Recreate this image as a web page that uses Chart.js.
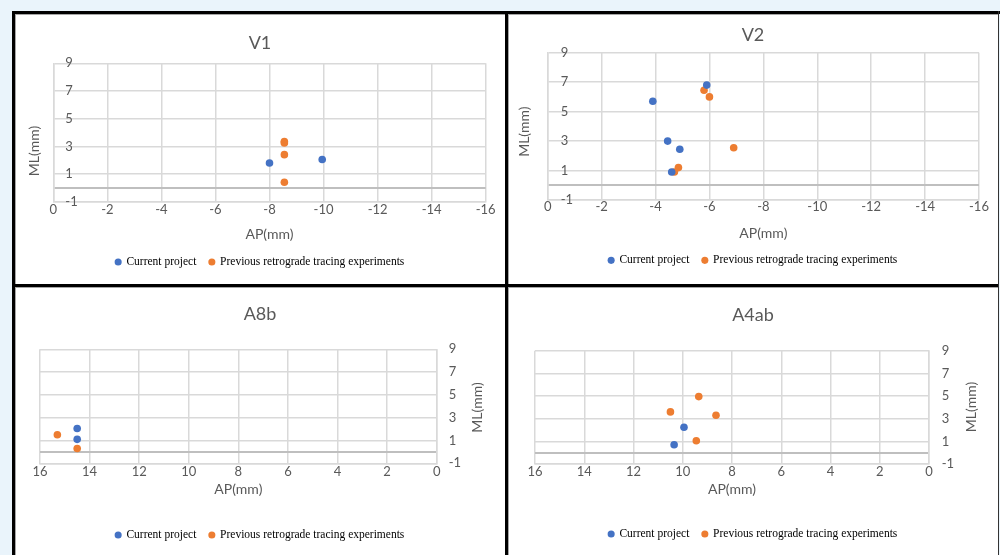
<!DOCTYPE html>
<html>
<head>
<meta charset="utf-8">
<title>V1, V2, A8b, A4ab</title>
<script src="https://cdn.jsdelivr.net/npm/chart.js@4.4.1/dist/chart.umd.min.js"></script>
<style>
  body { margin: 0; width: 1000px; height: 555px; overflow: hidden; position: relative; background: #eaf4fb; }
  .sheet { position: absolute; left: 15px; top: 14px; width: 983px; height: 541px; background: #fff; }
  .panel { position: absolute; }
  .rule { position: absolute; background: #000; }
  .soft { position: absolute; background: #a6a6a6; }
</style>
</head>
<body>
<div class="sheet"></div>
<div class="panel" style="left:15px;top:14px;width:490px;height:270px"><canvas id="v1"></canvas></div>
<div class="panel" style="left:508px;top:14px;width:490px;height:270px"><canvas id="v2"></canvas></div>
<div class="panel" style="left:15px;top:287px;width:490px;height:268px"><canvas id="a8b"></canvas></div>
<div class="panel" style="left:508px;top:287px;width:490px;height:268px"><canvas id="a4ab"></canvas></div>

<div class="soft" style="left:15px;top:14px;width:983px;height:1px"></div>
<div class="soft" style="left:15px;top:14px;width:1px;height:541px"></div>
<div class="soft" style="left:508px;top:14px;width:1px;height:541px"></div>
<div class="soft" style="left:15px;top:287px;width:983px;height:1px"></div>
<div class="rule" style="left:12px;top:11px;width:988px;height:3px"></div>
<div class="rule" style="left:12px;top:11px;width:3px;height:544px"></div>
<div class="rule" style="left:505px;top:11px;width:3px;height:544px"></div>
<div class="rule" style="left:12px;top:284px;width:987px;height:3px"></div>
<div class="rule" style="left:998px;top:11px;width:1px;height:544px;background:#333"></div>

<script>
const seriesNames = ['Current project', 'Previous retrograde tracing experiments'];
const seriesColors = ['#4472C4', '#ED7D31'];

const mlTicks = [-1, 1, 3, 5, 7, 9];
const apTicksCaudal = [0, -2, -4, -6, -8, -10, -12, -14, -16];
const apTicksRostral = [16, 14, 12, 10, 8, 6, 4, 2, 0];

// V1
const v1CurrentAP = [-8.0, -9.95];
const v1CurrentML = [1.8, 2.05];
const v1PreviousAP = [-8.55, -8.55, -8.55, -8.55];
const v1PreviousML = [3.35, 3.25, 2.4, 0.4];

// V2
const v2CurrentAP = [-3.9, -5.9, -4.45, -4.9, -4.6];
const v2CurrentML = [5.7, 6.8, 3.0, 2.45, 0.9];
const v2PreviousAP = [-5.8, -6.0, -6.9, -4.85, -4.7];
const v2PreviousML = [6.45, 6.0, 2.55, 1.2, 0.9];

// A8b
const a8bCurrentAP = [14.5, 14.5];
const a8bCurrentML = [2.05, 1.1];
const a8bPreviousAP = [15.3, 14.5];
const a8bPreviousML = [1.5, 0.3];

// A4ab
const a4abCurrentAP = [9.95, 10.35];
const a4abCurrentML = [2.25, 0.7];
const a4abPreviousAP = [9.35, 10.5, 8.65, 9.45];
const a4abPreviousML = [4.95, 3.6, 3.3, 1.05];

const gridGray = '#d9d9d9';
const axisGray = '#bfbfbf';
const textGray = '#595959';
const tickFont = { family: 'Lato', size: 13 };
const axisFont = { family: 'Lato', size: 14 };

function toPoints(ap, ml) {
  return ap.map((x, i) => ({ x: x, y: ml[i] }));
}

// y axis title drawn by hand so it can sit where the original has it
const yTitlePlugin = {
  id: 'yTitle',
  afterDraw(chart, args, opts) {
    const ctx = chart.ctx;
    ctx.save();
    ctx.translate(opts.x, opts.y);
    ctx.rotate(-Math.PI / 2);
    ctx.font = '14px Lato';
    ctx.fillStyle = textGray;
    ctx.textAlign = 'center';
    ctx.textBaseline = 'middle';
    ctx.fillText(opts.text, 0, 0);
    ctx.restore();
  }
};

function makeChart(id, title, cur, prev, apTicks, side, box) {
  const apSorted = apTicks.slice().sort((a, b) => a - b);
  new Chart(document.getElementById(id), {
    type: 'scatter',
    data: {
      datasets: [
        { label: seriesNames[0], data: cur, backgroundColor: seriesColors[0], borderColor: seriesColors[0], borderWidth: 0, pointRadius: 3.8, pointHoverRadius: 3.8 },
        { label: seriesNames[1], data: prev, backgroundColor: seriesColors[1], borderColor: seriesColors[1], borderWidth: 0, pointRadius: 3.8, pointHoverRadius: 3.8 }
      ]
    },
    plugins: [yTitlePlugin],
    options: {
      responsive: true,
      maintainAspectRatio: false,
      animation: false,
      layout: { padding: { left: box.side, right: box.side, top: 0, bottom: box.bottom } },
      plugins: {
        title: {
          display: true, text: title, color: textGray,
          font: { family: 'Lato', size: 18, weight: 'normal' },
          padding: { top: box.titleTop, bottom: box.titleBottom }
        },
        legend: {
          position: 'bottom',
          labels: {
            usePointStyle: true, pointStyle: 'circle', boxWidth: 5, boxHeight: 5, padding: 13,
            color: '#000', font: { family: 'Liberation Serif', size: 11.5 }
          }
        },
        tooltip: { enabled: false },
        yTitle: { text: 'ML(mm)', x: box.yTitleX, y: box.yTitleY }
      },
      scales: {
        x: {
          type: 'linear', position: 'bottom', reverse: true,
          min: apSorted[0], max: apSorted[apSorted.length - 1],
          afterBuildTicks: (s) => { s.ticks = apSorted.map(v => ({ value: v })); },
          afterFit: (s) => { s.height = box.xHeight; },
          ticks: { color: textGray, font: tickFont, padding: box.xTickPad, autoSkip: false, maxRotation: 0, callback: (v) => String(v) },
          grid: { color: gridGray, lineWidth: 1.5, drawTicks: false },
          border: { color: gridGray, width: 1.5 },
          title: { display: true, text: 'AP(mm)', color: textGray, font: axisFont, padding: { top: 0, bottom: box.xTitlePad } }
        },
        y: {
          type: 'linear', position: side, min: mlTicks[0], max: mlTicks[mlTicks.length - 1],
          afterBuildTicks: (s) => { s.ticks = mlTicks.concat([0]).sort((a, b) => a - b).map(v => ({ value: v })); },
          afterFit: (s) => { s.width = box.yWidth; },
          ticks: {
            mirror: side === 'left', padding: box.yTickPad, color: textGray, font: tickFont, autoSkip: false,
            callback: (v) => v === 0 ? '' : String(v)
          },
          grid: {
            drawTicks: false,
            color: (c) => (c.tick && c.tick.value === 0 ? axisGray : gridGray),
            lineWidth: (c) => (c.tick && c.tick.value === 0 ? 2 : 1.5)
          },
          border: { color: gridGray, width: 1.5 }
        }
      }
    }
  });
}

function drawAll() {
  makeChart('v1', 'V1', toPoints(v1CurrentAP, v1CurrentML), toPoints(v1PreviousAP, v1PreviousML), apTicksCaudal, 'left',
    { side: 19.3, bottom: 6.2, titleTop: 17.9, titleBottom: 9.8, xHeight: 41.6, xTickPad: 0, xTitlePad: 0,
      yWidth: 19, yTickPad: 12, yTitleX: 19, yTitleY: 137 });
  makeChart('v2', 'V2', toPoints(v2CurrentAP, v2CurrentML), toPoints(v2PreviousAP, v2PreviousML), apTicksCaudal, 'left',
    { side: 19, bottom: 7.9, titleTop: 10.2, titleBottom: 6.9, xHeight: 41.6, xTickPad: -1, xTitlePad: 0,
      yWidth: 20.7, yTickPad: 13, yTitleX: 16, yTitleY: 117.7 });
  makeChart('a8b', 'A8b', toPoints(a8bCurrentAP, a8bCurrentML), toPoints(a8bPreviousAP, a8bPreviousML), apTicksRostral, 'right',
    { side: 25, bottom: 4.2, titleTop: 16.4, titleBottom: 24.3, xHeight: 53, xTickPad: 0.6, xTitlePad: 18.9,
      yWidth: 43.3, yTickPad: 12, yTitleX: 462, yTitleY: 120.5 });
  makeChart('a4ab', 'A4ab', toPoints(a4abCurrentAP, a4abCurrentML), toPoints(a4abPreviousAP, a4abPreviousML), apTicksRostral, 'right',
    { side: 27, bottom: 5.25, titleTop: 17.7, titleBottom: 24.4, xHeight: 51.25, xTickPad: 0.5, xTitlePad: 17.85,
      yWidth: 42, yTickPad: 12.7, yTitleX: 463, yTitleY: 120 });
}

Promise.all([
  document.fonts.load('13px Lato'),
  document.fonts.load('18px Lato'),
  document.fonts.load('11.5px "Liberation Serif"')
]).then(drawAll, drawAll);
</script>
</body>
</html>
